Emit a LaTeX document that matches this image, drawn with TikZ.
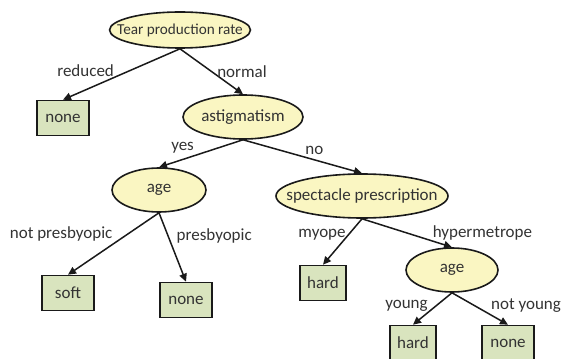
\documentclass[tikz,border=0pt]{standalone}
\usepackage{fontspec}
\setmainfont{Carlito}
\usepackage{xcolor}
\definecolor{Ink}{HTML}{333333}
\definecolor{PaleYellow}{HTML}{FAF6C2}
\definecolor{PaleGreen}{HTML}{D9E4BE}
\definecolor{Edge}{HTML}{1A1A1A}
\usetikzlibrary{arrows.meta,shapes.geometric,positioning}
\tikzset{
  test/.style={ellipse,draw=Edge,line width=1.6pt,fill=PaleYellow,inner sep=0pt,
    minimum height=44pt,text=Ink,font=\fontsize{17}{19}\selectfont},
  leaf/.style={rectangle,draw=Edge,line width=1.6pt,fill=PaleGreen,inner sep=0pt,
    minimum width=52pt,minimum height=35pt,text=Ink,font=\fontsize{17}{19}\selectfont},
  branch/.style={-{Triangle[length=8pt,width=7.5pt]},line width=1.5pt,color=Edge},
  elabel/.style={text=Ink,font=\fontsize{17}{19}\selectfont,inner sep=2pt}
}

\begin{document}
\begin{tikzpicture}[x=1pt,y=-1pt]
  \useasboundingbox[fill=white] (0,0) rectangle (561,358);
  \node[test,minimum width=140pt,minimum height=36pt,inner xsep=-13pt,
    font=\fontsize{15.2}{17}\selectfont] (tear) at (180,30) {Tear production rate};
  \node[leaf] (none1) at (63,118) {none};
  \node[test,minimum width=120pt,inner xsep=-2pt] (astig) at (243,117) {astigmatism};
  \node[test,minimum width=94pt] (age1) at (159,190) {age};
  \node[test,minimum width=172pt,inner xsep=-15pt] (spec) at (362,196) {spectacle prescription};
  \node[leaf] (soft) at (68,293) {soft};
  \node[leaf] (none2) at (186,300) {none};
  \node[leaf,minimum width=46pt] (hard1) at (323,283) {hard};
  \node[test,minimum width=92pt] (age2) at (452,270) {age};
  \node[leaf,minimum width=46pt] (hard2) at (413,343) {hard};
  \node[leaf] (none3) at (508,343) {none};
  \draw[branch] (tear.south) -- node[elabel,pos=.55,above left=-3pt and -1pt] {reduced} (none1.north);
  \draw[branch] (tear.south) -- node[elabel,pos=.5,right=3pt] {normal} (astig.north);
  \draw[branch] (astig.south) -- node[elabel,pos=.6,above left=0pt and -4pt] {yes} (age1.north);
  \draw[branch] (astig.south) -- node[elabel,pos=.6,above=2pt] {no} (spec.north);
  \draw[branch] (age1.south) -- node[elabel,pos=.35,left=12pt] {not presbyopic} (soft.north);
  \draw[branch] (age1.south) -- node[elabel,pos=.33,right=6pt] {presbyopic} (none2.north);
  \draw[branch] (spec.south) -- node[elabel,pos=.35,left=0pt] {myope} (hard1.north);
  \draw[branch] (spec.south) -- node[elabel,pos=.8,above right=-1pt and -4pt] {hypermetrope} (age2.north);
  \draw[branch] (age2.south) -- node[elabel,pos=.4,left=6pt] {young} (hard2.north);
  \draw[branch] (age2.south) -- node[elabel,pos=.4,right=14pt] {not young} (none3.north);
\end{tikzpicture}
\end{document}
